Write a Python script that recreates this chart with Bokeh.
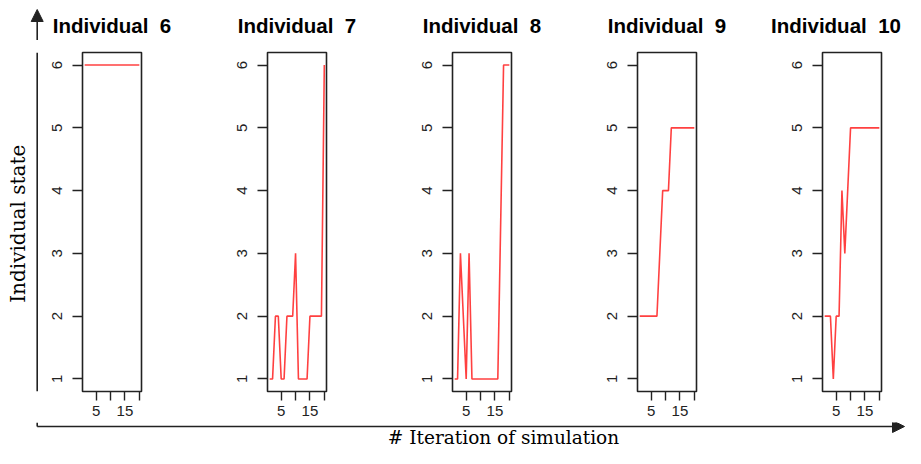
import math
from bokeh.plotting import figure
from bokeh.layouts import row, column
from bokeh.models import Range1d, FixedTicker, Arrow, NormalHead, Label
from bokeh.embed import file_html
from bokeh.resources import INLINE

# ---------------- data ----------------
INDIVIDUALS = ["6", "7", "8", "9", "10"]

ITER_6 = [1, 20]
STATE_6 = [6, 6]

ITER_7 = [1, 2, 3, 4, 5, 6, 7, 8, 9, 10, 11, 12, 13, 14, 15, 16, 17, 18, 19, 20]
STATE_7 = [1, 1, 2, 2, 1, 1, 2, 2, 2, 3, 1, 1, 1, 1, 2, 2, 2, 2, 2, 6]

ITER_8 = [1, 2, 3, 5, 6, 7, 16, 18, 20]
STATE_8 = [1, 1, 3, 1, 3, 1, 1, 6, 6]

ITER_9 = [1, 7, 9, 11, 12, 20]
STATE_9 = [2, 2, 4, 4, 5, 5]

ITER_10 = [1, 3, 4, 5, 6, 7, 8, 10, 20]
STATE_10 = [2, 2, 1, 2, 2, 4, 3, 5, 5]

SERIES = [(ITER_6, STATE_6), (ITER_7, STATE_7), (ITER_8, STATE_8),
          (ITER_9, STATE_9), (ITER_10, STATE_10)]

Y_TICKS = [1, 2, 3, 4, 5, 6]
X_TICKS = [5, 10, 15, 20]
X_TICK_LABELS = {5: "5", 10: "", 15: "15", 20: ""}

Y_LABEL = "Individual state"
X_LABEL = "# Iteration of simulation"

# ---------------- layout constants ----------------
TITLE_H = 40
PANEL_H = 382          # below the title strip
FRAME_TOP = 12         # inside panel figure
FRAME_BOTTOM = 351     # inside panel figure
LEFT_W = 42
PANEL_W = 185
FRAME_W = 59
BORDER_L = 40
LAST_BORDER_R = 24
TOTAL_W = LEFT_W + 4 * PANEL_W + BORDER_L + FRAME_W + LAST_BORDER_R
BOTTOM_H = 26

X_RANGE = (0.24, 20.76)
Y_RANGE = (0.8, 6.2)

SANS = "Liberation Sans"
SERIF = "DejaVu Serif"
LINE_RED = "#ff2b2b"
AXIS_COL = "#222222"
ARROW_COL = "#222222"


def make_panel(xs, ys, last):
    right = LAST_BORDER_R if last else PANEL_W - FRAME_W - BORDER_L
    p = figure(width=BORDER_L + FRAME_W + right, height=PANEL_H,
               x_range=Range1d(*X_RANGE), y_range=Range1d(*Y_RANGE),
               toolbar_location=None, output_backend="svg",
               min_border_left=BORDER_L, min_border_right=right,
               min_border_top=FRAME_TOP, min_border_bottom=PANEL_H - FRAME_BOTTOM)
    p.xgrid.visible = False
    p.ygrid.visible = False
    p.outline_line_color = "#222222"
    p.outline_line_width = 1.6
    p.background_fill_color = "white"
    p.border_fill_color = "white"

    p.line(xs, ys, line_color=LINE_RED, line_width=1.6, line_alpha=0.9)

    ya = p.yaxis[0]
    ya.ticker = FixedTicker(ticks=Y_TICKS)
    ya.major_label_orientation = "vertical"
    ya.axis_line_color = None
    ya.major_tick_in = 0
    ya.major_tick_out = 10
    ya.minor_tick_line_color = None
    ya.major_tick_line_color = AXIS_COL
    ya.major_tick_line_width = 1.4
    ya.major_label_standoff = 10
    ya.major_label_text_font = SANS
    ya.major_label_text_font_size = "15px"
    ya.major_label_text_color = AXIS_COL

    xa = p.xaxis[0]
    xa.ticker = FixedTicker(ticks=X_TICKS)
    xa.major_label_overrides = X_TICK_LABELS
    xa.axis_line_color = None
    xa.major_tick_in = 0
    xa.major_tick_out = 9
    xa.minor_tick_line_color = None
    xa.major_tick_line_color = AXIS_COL
    xa.major_tick_line_width = 1.4
    xa.major_label_standoff = 5
    xa.major_label_text_font = SANS
    xa.major_label_text_font_size = "15px"
    xa.major_label_text_color = AXIS_COL
    return p


def blank(width, height):
    f = figure(width=width, height=height, x_range=Range1d(0, width),
               y_range=Range1d(height, 0), toolbar_location=None,
               output_backend="svg", min_border=0)
    f.axis.visible = False
    f.grid.visible = False
    f.outline_line_color = None
    f.background_fill_color = "white"
    f.border_fill_color = "white"
    return f


AX_X = 36.7

# title strip: panel titles + top of the vertical arrow
top = blank(TOTAL_W, TITLE_H)
top.add_layout(Arrow(x_start=AX_X, y_start=TITLE_H, x_end=AX_X, y_end=9,
                     line_color=ARROW_COL, line_width=1.6,
                     end=NormalHead(size=12, fill_color=ARROW_COL, line_color=ARROW_COL)))
for i, name in enumerate(INDIVIDUALS):
    cx = LEFT_W + i * PANEL_W + BORDER_L + FRAME_W / 2
    last = i == len(INDIVIDUALS) - 1
    top.add_layout(Label(x=cx, y=25, x_offset=-16 if last else 0,
                         text="Individual \u00a0" + name, text_align="center",
                         text_baseline="alphabetic", text_font=SANS,
                         text_font_size="20.5px", text_font_style="bold",
                         text_color="black"))

# left strip: vertical axis line + y label
left = blank(LEFT_W, PANEL_H)
left.segment(x0=[AX_X], y0=[0], x1=[AX_X], y1=[PANEL_H], line_color=ARROW_COL, line_width=1.6)
left.add_layout(Label(x=17, y=233 - TITLE_H, text=Y_LABEL, angle=math.pi / 2,
                      text_align="center", text_baseline="middle",
                      text_font=SERIF, text_font_size="20px", text_color="black"))

panels = [make_panel(s[0], s[1], i == len(INDIVIDUALS) - 1)
          for i, s in enumerate(SERIES)]

# bottom strip: horizontal arrow + x label
HL_Y = 4
bottom = blank(TOTAL_W, BOTTOM_H)
bottom.segment(x0=[AX_X], y0=[0], x1=[AX_X], y1=[HL_Y], line_color=ARROW_COL, line_width=1.6)
bottom.add_layout(Arrow(x_start=AX_X, y_start=HL_Y, x_end=TOTAL_W - 1, y_end=HL_Y,
                        line_color=ARROW_COL, line_width=1.6,
                        end=NormalHead(size=12, fill_color=ARROW_COL, line_color=ARROW_COL)))
bottom.add_layout(Label(x=503, y=15, text=X_LABEL, text_align="center",
                        text_baseline="middle", text_font=SERIF,
                        text_font_size="18.5px", text_color="black"))

layout = column(top, row(left, *panels, spacing=0), bottom, spacing=0)

with open("out.html", "w") as fh:
    fh.write(file_html(layout, INLINE))
